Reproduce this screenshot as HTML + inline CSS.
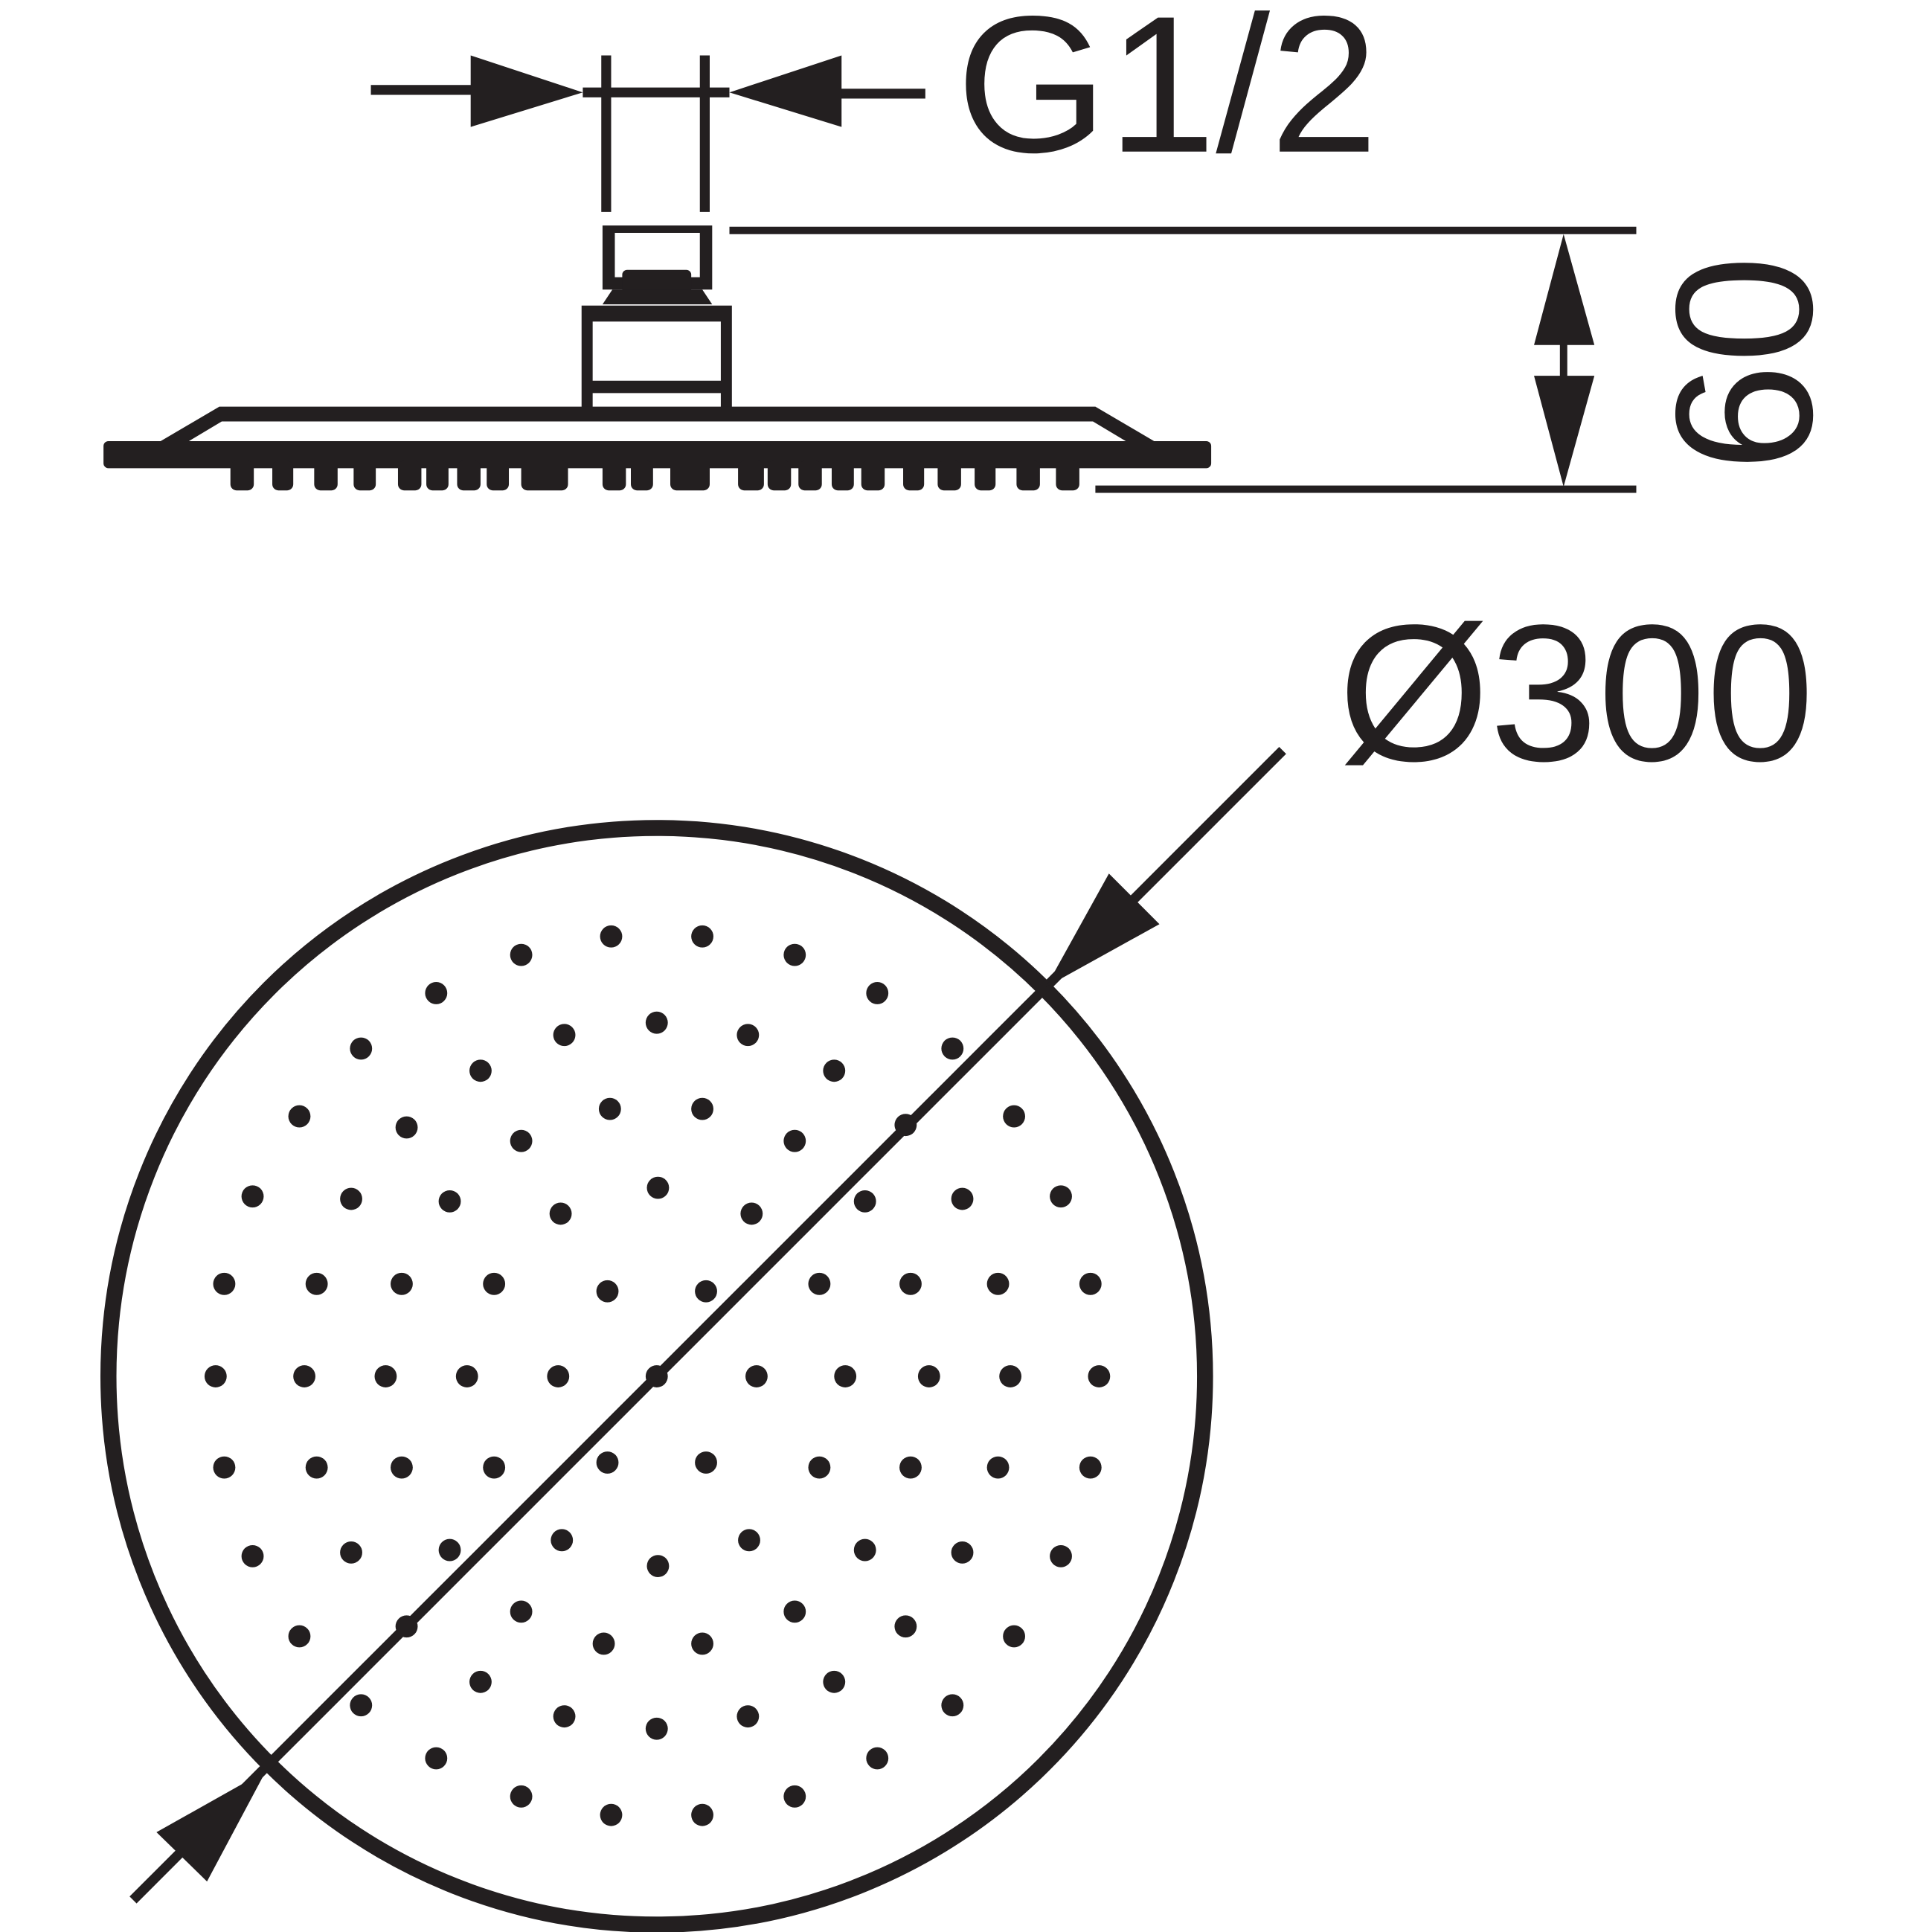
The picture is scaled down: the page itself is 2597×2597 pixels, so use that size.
<!DOCTYPE html>
<html><head><meta charset="utf-8"><style>
html,body{margin:0;padding:0;background:#fff;}
svg{display:block;}
text{font-family:"Liberation Sans",sans-serif;fill:#231f20;}
</style></head><body>
<svg width="2597" height="2597" viewBox="0 0 1568 1568" xmlns="http://www.w3.org/2000/svg">
<g stroke="#231f20" fill="none" stroke-width="8">
<line x1="301" y1="73" x2="400" y2="73"/>
<line x1="660" y1="76" x2="751" y2="76"/>
<line x1="473" y1="75" x2="592" y2="75"/>
<line x1="492" y1="45" x2="492" y2="172"/>
<line x1="572" y1="45" x2="572" y2="172"/>
<line x1="592" y1="187" x2="1328" y2="187" stroke-width="6"/>
<line x1="889" y1="397" x2="1328" y2="397" stroke-width="6"/>
<line x1="1269" y1="278" x2="1269" y2="307" stroke-width="6"/>
<circle cx="533" cy="1117" r="445" stroke-width="13"/>
<line x1="108" y1="1542" x2="1041" y2="609" stroke-width="8"/>
</g>
<g fill="#231f20">
<!-- cap -->
<path fill-rule="evenodd" d="M489,183 h89 v52 h-89 z M499,189 v36 h69 v-36 z" />
<rect x="505" y="219" width="56" height="27" rx="4"/>
<polygon points="497,235 570,235 578,247 489,247"/>
<!-- hex body -->
<path fill-rule="evenodd" d="M472,248 h122 v84 h-122 z M481,261 v48 h104 v-48 z M481,319 v13 h104 v-13 z"/>
<!-- plate -->
<path fill-rule="evenodd" d="M127,360 L178,330 H889 L940,360 Z M150,360 L180,342 H887 L917,360 Z"/>
<rect x="84" y="358" width="899" height="22" rx="4"/>
<g>
<rect x="187" y="374" width="19" height="24" rx="5"/>
<rect x="221" y="374" width="17" height="24" rx="5"/>
<rect x="255" y="374" width="19" height="24" rx="5"/>
<rect x="287" y="374" width="18" height="24" rx="5"/>
<rect x="323" y="374" width="19" height="24" rx="5"/>
<rect x="346" y="374" width="18" height="24" rx="5"/>
<rect x="371" y="374" width="19" height="24" rx="5"/>
<rect x="395" y="374" width="18" height="24" rx="5"/>
<rect x="423" y="374" width="38" height="24" rx="5"/>
<rect x="489" y="374" width="19" height="24" rx="5"/>
<rect x="512" y="374" width="18" height="24" rx="5"/>
<rect x="544" y="374" width="32" height="24" rx="5"/>
<rect x="599" y="374" width="21" height="24" rx="5"/>
<rect x="623" y="374" width="19" height="24" rx="5"/>
<rect x="648" y="374" width="19" height="24" rx="5"/>
<rect x="675" y="374" width="18" height="24" rx="5"/>
<rect x="699" y="374" width="19" height="24" rx="5"/>
<rect x="733" y="374" width="17" height="24" rx="5"/>
<rect x="761" y="374" width="19" height="24" rx="5"/>
<rect x="791" y="374" width="17" height="24" rx="5"/>
<rect x="825" y="374" width="19" height="24" rx="5"/>
<rect x="857" y="374" width="19" height="24" rx="5"/>
</g>
<polygon points="473,75 382,45 382,103"/>
<polygon points="592,75 683,45 683,103"/>
<polygon points="1269,190 1245,280 1294,280"/>
<polygon points="1269,395 1245,305 1294,305"/>
<polygon points="849,801 900,709 941,750"/>
<polygon points="216,1437 127,1487 168,1527"/>
<g>
<circle cx="496" cy="760" r="9"/><circle cx="570" cy="760" r="9"/>
<circle cx="423" cy="775" r="9"/><circle cx="645" cy="775" r="9"/>
<circle cx="354" cy="806" r="9"/><circle cx="712" cy="806" r="9"/>
<circle cx="533" cy="830" r="9"/>
<circle cx="458" cy="840" r="9"/><circle cx="607" cy="840" r="9"/>
<circle cx="293" cy="851" r="9"/><circle cx="773" cy="851" r="9"/>
<circle cx="390" cy="869" r="9"/><circle cx="677" cy="869" r="9"/>
<circle cx="495" cy="900" r="9"/><circle cx="570" cy="900" r="9"/>
<circle cx="243" cy="906" r="9"/><circle cx="823" cy="906" r="9"/>
<circle cx="735" cy="913" r="9"/><circle cx="330" cy="915" r="9"/>
<circle cx="423" cy="926" r="9"/><circle cx="645" cy="926" r="9"/>
<circle cx="534" cy="964" r="9"/>
<circle cx="205" cy="971" r="9"/><circle cx="861" cy="971" r="9"/>
<circle cx="285" cy="973" r="9"/><circle cx="781" cy="973" r="9"/>
<circle cx="365" cy="975" r="9"/><circle cx="702" cy="975" r="9"/>
<circle cx="455" cy="985" r="9"/><circle cx="610" cy="985" r="9"/>
<circle cx="182" cy="1042" r="9"/><circle cx="257" cy="1042" r="9"/><circle cx="326" cy="1042" r="9"/><circle cx="401" cy="1042" r="9"/>
<circle cx="665" cy="1042" r="9"/><circle cx="739" cy="1042" r="9"/><circle cx="810" cy="1042" r="9"/><circle cx="885" cy="1042" r="9"/>
<circle cx="493" cy="1048" r="9"/><circle cx="573" cy="1048" r="9"/>
<circle cx="175" cy="1117" r="9"/><circle cx="247" cy="1117" r="9"/><circle cx="313" cy="1117" r="9"/><circle cx="379" cy="1117" r="9"/><circle cx="453" cy="1117" r="9"/><circle cx="533" cy="1117" r="9"/><circle cx="614" cy="1117" r="9"/><circle cx="686" cy="1117" r="9"/><circle cx="754" cy="1117" r="9"/><circle cx="820" cy="1117" r="9"/><circle cx="892" cy="1117" r="9"/>
<circle cx="493" cy="1187" r="9"/><circle cx="573" cy="1187" r="9"/>
<circle cx="182" cy="1191" r="9"/><circle cx="257" cy="1191" r="9"/><circle cx="326" cy="1191" r="9"/><circle cx="401" cy="1191" r="9"/>
<circle cx="665" cy="1191" r="9"/><circle cx="739" cy="1191" r="9"/><circle cx="810" cy="1191" r="9"/><circle cx="885" cy="1191" r="9"/>
<circle cx="456" cy="1250" r="9"/><circle cx="608" cy="1250" r="9"/>
<circle cx="365" cy="1258" r="9"/><circle cx="702" cy="1258" r="9"/>
<circle cx="285" cy="1260" r="9"/><circle cx="781" cy="1260" r="9"/>
<circle cx="205" cy="1263" r="9"/><circle cx="861" cy="1263" r="9"/>
<circle cx="534" cy="1271" r="9"/>
<circle cx="423" cy="1308" r="9"/><circle cx="645" cy="1308" r="9"/>
<circle cx="330" cy="1320" r="9"/><circle cx="735" cy="1320" r="9"/>
<circle cx="243" cy="1328" r="9"/><circle cx="823" cy="1328" r="9"/>
<circle cx="490" cy="1334" r="9"/><circle cx="570" cy="1334" r="9"/>
<circle cx="390" cy="1365" r="9"/><circle cx="677" cy="1365" r="9"/>
<circle cx="293" cy="1384" r="9"/><circle cx="773" cy="1384" r="9"/>
<circle cx="458" cy="1393" r="9"/><circle cx="607" cy="1393" r="9"/>
<circle cx="533" cy="1403" r="9"/>
<circle cx="354" cy="1427" r="9"/><circle cx="712" cy="1427" r="9"/>
<circle cx="423" cy="1458" r="9"/><circle cx="645" cy="1458" r="9"/>
<circle cx="496" cy="1473" r="9"/><circle cx="570" cy="1473" r="9"/>
</g>
</g>
<text x="776" y="123" font-size="158">G1/2</text>
<text x="1086" y="617" font-size="158">Ø300</text>
<text x="0" y="0" font-size="158" text-anchor="middle" transform="translate(1470,295) rotate(-90)">60</text>
</svg>
</body></html>
